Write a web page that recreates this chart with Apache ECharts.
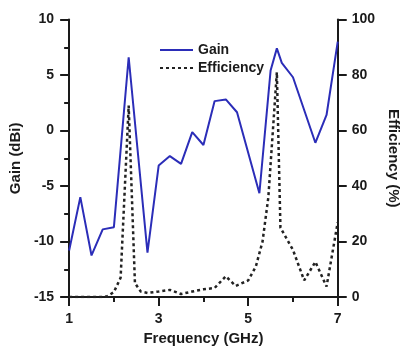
<!DOCTYPE html>
<html>
<head>
<meta charset="utf-8">
<script src="https://cdn.jsdelivr.net/npm/echarts@6/dist/echarts.min.js"></script>
<style>
  html, body { margin: 0; padding: 0; background: #fff; }
  #chart { width: 409px; height: 351px; }
</style>
</head>
<body>
<div id="chart"></div>
<script>
// values
const gainFreq = [1.0, 1.25, 1.5, 1.75, 2.0, 2.33, 2.75, 3.0, 3.25, 3.5, 3.75, 4.0, 4.25, 4.5, 4.75, 5.25, 5.5, 5.64, 5.75, 6.0, 6.5, 6.75, 7.0];
const gainVals = [-10.8, -6.0, -11.25, -8.9, -8.7, 6.6, -11.0, -3.15, -2.3, -3.0, -0.15, -1.3, 2.65, 2.8, 1.65, -5.65, 5.4, 7.4, 6.1, 4.8, -1.1, 1.4, 8.0];

const effFreq = [1.0, 1.25, 1.5, 1.75, 1.85, 2.0, 2.15, 2.33, 2.47, 2.6, 2.75, 3.0, 3.25, 3.5, 3.75, 4.0, 4.25, 4.5, 4.72, 5.0, 5.17, 5.32, 5.45, 5.64, 5.72, 6.0, 6.25, 6.5, 6.75, 7.0];
const effVals = [0, 0, 0, 0, 0.3, 1.8, 7, 69, 5, 2, 1.5, 2, 2.6, 1.1, 2, 2.8, 3.3, 7.5, 4, 6, 11, 20, 36, 81, 25, 17, 6, 12.7, 3.8, 27];

const xTicks = [1, 3, 5, 7];

const font = "'Liberation Sans', Arial, sans-serif";
const ink = "#1a1a1a";

const chart = echarts.init(document.getElementById("chart"));

const axisCommon = {
  axisLine: { show: true, onZero: false, lineStyle: { color: ink, width: 2 } },
  axisTick: { show: true, length: 9, lineStyle: { color: ink, width: 2 } },
  minorTick: { show: true, splitNumber: 2, length: 5, lineStyle: { color: ink, width: 2 } },
  splitLine: { show: false },
  axisLabel: { color: ink, fontFamily: font, fontWeight: "bold", fontSize: 14 },
  nameTextStyle: { color: ink, fontFamily: font, fontWeight: "bold", fontSize: 15 },
  nameLocation: "middle",
};

chart.setOption({
  animation: false,
  backgroundColor: "#fff",
  grid: { left: 67, right: 60, top: 19.5, bottom: 48.5, containLabel: false },
  legend: {
    orient: "vertical",
    left: 154,
    top: 38,
    itemWidth: 33,
    itemHeight: 14,
    itemGap: 4,
    itemStyle: { opacity: 0 },
    textStyle: { color: ink, fontFamily: font, fontWeight: "bold", fontSize: 14 },
    data: ["Gain", "Efficiency"],
  },
  xAxis: {
    ...axisCommon,
    type: "value",
    min: 1,
    max: 7,
    interval: 2,
    name: "Frequency (GHz)",
    nameGap: 33,
    axisLabel: {
      ...axisCommon.axisLabel,
      margin: 15,
      formatter: (v) => (xTicks.includes(v) ? String(v) : ""),
    },
  },
  yAxis: [
    {
      ...axisCommon,
      type: "value",
      position: "left",
      min: -15,
      max: 10,
      interval: 5,
      name: "Gain (dBi)",
      nameGap: 40,
      axisLabel: { ...axisCommon.axisLabel, margin: 15 },
    },
    {
      ...axisCommon,
      type: "value",
      position: "right",
      min: 0,
      max: 100,
      interval: 20,
      name: "Efficiency (%)",
      nameRotate: -90,
      nameGap: 44,
      minorTick: { show: false },
      axisLabel: { ...axisCommon.axisLabel, margin: 14 },
    },
  ],
  series: [
    {
      name: "Gain",
      type: "line",
      yAxisIndex: 0,
      symbol: "none",
      color: "#2b2db8",
      lineStyle: { color: "#2b2db8", width: 2 },
      data: gainFreq.map((f, i) => [f, gainVals[i]]),
      z: 3,
    },
    {
      name: "Efficiency",
      type: "line",
      yAxisIndex: 1,
      symbol: "none",
      color: "#222",
      lineStyle: { color: "#222", width: 2.5, type: [3, 3] },
      data: effFreq.map((f, i) => [f, effVals[i]]),
      z: 2,
    },
  ],
});
</script>
</body>
</html>
